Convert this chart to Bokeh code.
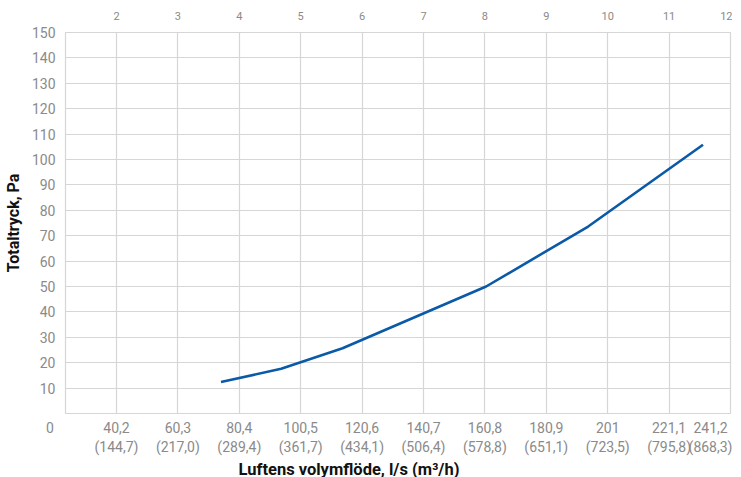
from bokeh.plotting import figure
from bokeh.models import Range1d, LinearAxis, FixedTicker, Title
from bokeh.embed import file_html
from bokeh.resources import INLINE

# Data
flow_ls = [74.4, 94.1, 114.2, 161.2, 194.6, 232.2]      # l/s
pressure_pa = [12.4, 17.6, 25.7, 50.0, 73.6, 105.8]     # Pa

x_start, x_end = 23.5, 241.2
x_ticks = [40.2, 60.3, 80.4, 100.5, 120.6, 140.7, 160.8, 180.9, 201.0, 221.1, 241.2]
x_labels_bottom = ["40,2\n(144,7)", "60,3\n(217,0)", "80,4\n(289,4)", "100,5\n(361,7)",
                   "120,6\n(434,1)", "140,7\n(506,4)", "160,8\n(578,8)", "180,9\n(651,1)",
                   "201\n(723,5)", "221,1\n(795,8)", "241,2\n(868,3)"]
x_labels_top = ["2", "3", "4", "5", "6", "7", "8", "9", "10", "11", "12"]
y_ticks = [0, 10, 20, 30, 40, 50, 60, 70, 80, 90, 100, 110, 120, 130, 140, 150]

FONT = "Roboto"
GRID = "#d6d6d6"
TICK_COLOR = "#8a8a8a"

p = figure(frame_width=665, frame_height=381, output_backend="svg", toolbar_location=None,
           x_range=Range1d(x_start, x_end), y_range=Range1d(0, 150),
           min_border_left=58, min_border_right=2, min_border_top=32, min_border_bottom=40,
           x_axis_location=None, y_axis_location="left")
p.outline_line_color = GRID
p.outline_line_width = 1.2
p.background_fill_color = "white"
p.border_fill_color = "white"

# y axis
ya = p.yaxis[0]
ya.ticker = FixedTicker(ticks=y_ticks)
ya.major_label_overrides = {0: ""}
ya.axis_line_color = None
ya.major_tick_line_color = None
ya.minor_tick_line_color = None
ya.major_label_text_font = FONT
ya.major_label_text_font_size = "14px"
ya.major_label_text_color = TICK_COLOR
ya.major_label_standoff = 4
ya.axis_label = "Totaltryck, Pa"
ya.axis_label_text_font = FONT
ya.axis_label_text_font_style = "bold"
ya.axis_label_text_font_size = "16px"
ya.axis_label_text_color = "#111111"
ya.axis_label_standoff = 6

# bottom axis (the corner "0" sits at the range start, nudged left with no-break spaces)
bottom_ticks = [x_start] + x_ticks
bottom_over = {t: l for t, l in zip(x_ticks, x_labels_bottom)}
bottom_over[x_start] = "0" + "\u00a0" * 9
xb = LinearAxis(ticker=FixedTicker(ticks=bottom_ticks), major_label_overrides=bottom_over)
xb.axis_line_color = None
xb.major_tick_line_color = None
xb.minor_tick_line_color = None
xb.major_label_text_font = FONT
xb.major_label_text_font_size = "14px"
xb.major_label_text_color = TICK_COLOR
xb.major_label_standoff = 0
p.add_layout(xb, "below")

# top axis
xt = LinearAxis(ticker=FixedTicker(ticks=x_ticks),
                major_label_overrides={t: l for t, l in zip(x_ticks, x_labels_top)})
xt.axis_line_color = None
xt.major_tick_line_color = None
xt.minor_tick_line_color = None
xt.major_label_text_font = FONT
xt.major_label_text_font_size = "11px"
xt.major_label_text_color = TICK_COLOR
xt.major_label_standoff = 7
p.add_layout(xt, "above")

# grid
p.xgrid.ticker = FixedTicker(ticks=x_ticks)
p.ygrid.ticker = FixedTicker(ticks=y_ticks)
for g in (p.xgrid[0], p.ygrid[0]):
    g.grid_line_color = GRID
    g.grid_line_width = 1.2

# x title
p.add_layout(Title(text="Luftens volymflöde, l/s (m³/h)", align="left", offset=173,
                   text_font=FONT, text_font_style="bold", text_font_size="16.5px",
                   text_color="#111111", standoff=0), "below")

p.line(flow_ls, pressure_pa, line_color="#0a5aa8", line_width=2.6)

open("out.html", "w").write(file_html(p, INLINE))
